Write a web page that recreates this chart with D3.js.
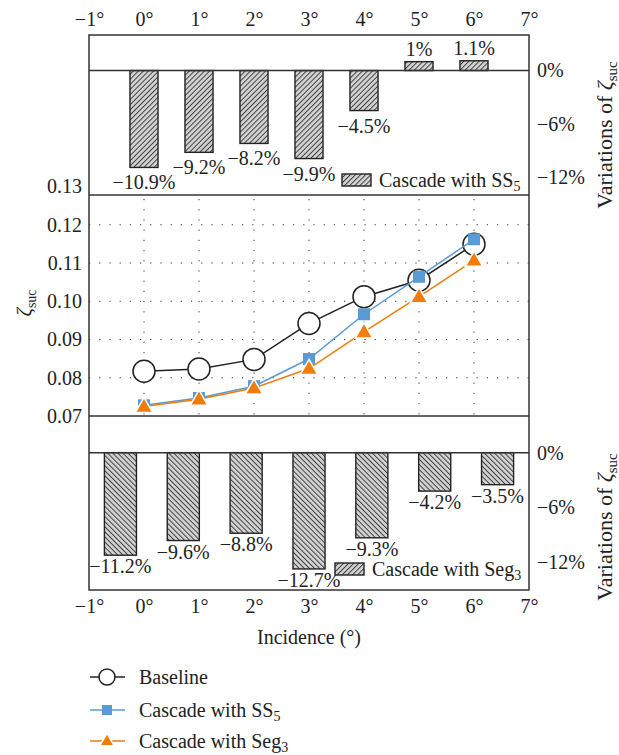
<!DOCTYPE html>
<html>
<head>
<meta charset="utf-8">
<script src="https://cdn.jsdelivr.net/npm/d3@7"></script>
<style>
body{margin:0;background:#fff;}
</style>
</head>
<body>
<svg id="chart" width="619" height="755"></svg>
<script>
// data
const angles=[0,1,2,3,4,5,6];
const baseline=[0.0817,0.0823,0.0848,0.0942,0.1012,0.1055,0.1149];
const ss5=[0.0728,0.0747,0.0778,0.0849,0.0966,0.1064,0.1162];
const seg3=[0.0725,0.0744,0.0773,0.0824,0.0920,0.1012,0.1107];
const varSS5=[-10.9,-9.2,-8.2,-9.9,-4.5,1,1.1];
const varSeg3=[-11.2,-9.6,-8.8,-12.7,-9.3,-4.2,-3.5];
const degTicks=[-1,0,1,2,3,4,5,6,7];
const zetaTicks=[0.07,0.08,0.09,0.10,0.11,0.12,0.13];
const varTicks=[0,-6,-12];

const svg=d3.select("#chart");
const L=89,R=529,topT=35,topB=195,midB=416,botB=590;
const blue="#5b9bd5",orange="#f07c0a",ink="#222";
const FONT="'Liberation Serif','Times New Roman',serif";

const x=d3.scaleLinear().domain([-1,7]).range([L,R]);
const xBand=d3.scaleBand().domain(angles).range([L,R]).paddingInner(0.49).paddingOuter(0.245);
const yTop=d3.scaleLinear().domain([-14,4]).range([topB,topT]);
const yMid=d3.scaleLinear().domain([0.07,0.13]).range([midB,186.5]);
const yBot=d3.scaleLinear().domain([-15,4]).range([botB,midB]);
const fmtPct=function(v){return (v<0?"\u2212":"")+Math.abs(v)+"%";};

// hatch patterns
const defs=svg.append("defs");
function hatch(id,angle){
	const p=defs.append("pattern").attr("id",id).attr("patternUnits","userSpaceOnUse")
		.attr("width",3.6).attr("height",3.6).attr("patternTransform","rotate("+angle+")");
	p.append("rect").attr("width",3.6).attr("height",3.6).attr("fill","#d2d2d2");
	p.append("line").attr("x1",0.5).attr("y1",0).attr("x2",0.5).attr("y2",3.6)
		.attr("stroke","#2a2a2a").attr("stroke-width",0.85);
}
hatch("hatchF",45);
hatch("hatchB",-45);

// middle panel grid (dotted)
const grid=svg.append("g");
grid.selectAll("line.h").data(zetaTicks.slice(1,6)).enter().append("line")
	.attr("x1",L).attr("x2",R).attr("y1",d=>yMid(d)).attr("y2",d=>yMid(d))
	.attr("stroke","#333").attr("stroke-width",1).attr("stroke-dasharray","1.2,9");
grid.selectAll("line.v").data(angles).enter().append("line")
	.attr("x1",d=>x(d)).attr("x2",d=>x(d)).attr("y1",topB).attr("y2",midB)
	.attr("stroke","#333").attr("stroke-width",1).attr("stroke-dasharray","1.2,9").attr("stroke-dashoffset",-4);

// top bars (SS5)
const topBars=svg.append("g");
const bwTop=(x(1)-x(0))*0.51;
topBars.selectAll("rect").data(varSS5).enter().append("rect")
	.attr("x",(d,i)=>x(angles[i])-bwTop/2)
	.attr("width",bwTop)
	.attr("y",d=>yTop(Math.max(0,d)))
	.attr("height",d=>Math.abs(yTop(d)-yTop(0)))
	.attr("fill","url(#hatchF)").attr("stroke",ink).attr("stroke-width",1.4);
topBars.selectAll("text").data(varSS5).enter().append("text")
	.attr("x",(d,i)=>x(angles[i]))
	.attr("y",d=>d<0?yTop(d)+22:yTop(d)-6)
	.attr("text-anchor","middle").style("font-size","20px")
	.text(fmtPct);

// bottom bars (Seg3)
const botBars=svg.append("g");
botBars.selectAll("rect").data(varSeg3).enter().append("rect")
	.attr("x",(d,i)=>xBand(angles[i]))
	.attr("width",xBand.bandwidth())
	.attr("y",yBot(0))
	.attr("height",d=>yBot(d)-yBot(0))
	.attr("fill","url(#hatchB)").attr("stroke",ink).attr("stroke-width",1.4);
botBars.selectAll("text").data(varSeg3).enter().append("text")
	.attr("x",(d,i)=>xBand(angles[i])+xBand.bandwidth()/2)
	.attr("y",d=>yBot(d)+18)
	.attr("text-anchor","middle").style("font-size","20px")
	.text(fmtPct);

// frame and separators
const frame=svg.append("g").attr("stroke","#333").attr("stroke-width",1.5).attr("fill","none");
frame.append("rect").attr("x",L).attr("y",topT).attr("width",R-L).attr("height",botB-topT);
[topB,midB,yTop(0),yBot(0)].forEach(function(y){
	frame.append("line").attr("x1",L).attr("x2",R).attr("y1",y).attr("y2",y);
});

// lines + markers
const line=d3.line().x((d,i)=>x(angles[i])).y(d=>yMid(d));
svg.append("path").datum(baseline).attr("d",line).attr("fill","none").attr("stroke",ink).attr("stroke-width",1.5);
svg.append("g").selectAll("circle").data(baseline).enter().append("circle")
	.attr("cx",(d,i)=>x(angles[i])).attr("cy",d=>yMid(d)).attr("r",11)
	.attr("fill","#fff").attr("stroke",ink).attr("stroke-width",1.5);
svg.append("path").datum(ss5).attr("d",line).attr("fill","none").attr("stroke",blue).attr("stroke-width",1.5);
svg.append("g").selectAll("rect").data(ss5).enter().append("rect")
	.attr("x",(d,i)=>x(angles[i])-6).attr("y",d=>yMid(d)-6).attr("width",12).attr("height",12)
	.attr("fill",blue);
svg.append("path").datum(seg3).attr("d",line).attr("fill","none").attr("stroke",orange).attr("stroke-width",1.5);
const tri=d3.symbol().type(d3.symbolTriangle).size(95);
svg.append("g").selectAll("path").data(seg3).enter().append("path")
	.attr("d",tri)
	.attr("transform",(d,i)=>"translate("+x(angles[i])+","+(yMid(d)+1)+")")
	.attr("fill",orange).attr("stroke","#fff").attr("stroke-width",3).style("paint-order","stroke");

// axes
function styleAxis(g){
	g.select(".domain").remove();
	g.selectAll("text").style("font-size","20px");
}
const degFmt=function(d){return (d<0?"\u2212"+Math.abs(d):d)+"\u00b0";};
svg.append("g").attr("transform","translate(0,"+topT+")")
	.call(d3.axisTop(x).tickValues(degTicks).tickSize(0).tickPadding(9).tickFormat(degFmt)).call(styleAxis);
svg.append("g").attr("transform","translate(0,"+botB+")")
	.call(d3.axisBottom(x).tickValues(degTicks).tickSize(0).tickPadding(9).tickFormat(degFmt)).call(styleAxis);
svg.append("g").attr("transform","translate("+L+",0)")
	.call(d3.axisLeft(yMid).tickValues(zetaTicks).tickSize(0).tickPadding(7).tickFormat(d3.format(".2f"))).call(styleAxis);
svg.append("g").attr("transform","translate("+R+",0)")
	.call(d3.axisRight(yTop).tickValues(varTicks).tickSize(0).tickPadding(8).tickFormat(fmtPct)).call(styleAxis);
svg.append("g").attr("transform","translate("+R+",0)")
	.call(d3.axisRight(yBot).tickValues(varTicks).tickSize(0).tickPadding(8).tickFormat(fmtPct)).call(styleAxis);

// axis titles
function zetaTitle(g,prefix,size,subSize){
	const t=g.append("text").attr("text-anchor","middle").style("font-size",size+"px");
	if(prefix) t.append("tspan").text(prefix);
	t.append("tspan").style("font-style","italic").text("\u03b6");
	t.append("tspan").attr("dy",5).style("font-size",subSize+"px").text("suc");
	return t;
}
zetaTitle(svg.append("g").attr("transform","translate(31,303) rotate(-90)"),"",21,14);
zetaTitle(svg.append("g").attr("transform","translate(612,135) rotate(-90)"),"Variations of ",22,15);
zetaTitle(svg.append("g").attr("transform","translate(612,527) rotate(-90)"),"Variations of ",22,15);
svg.append("text").attr("x",(L+R)/2).attr("y",644).attr("text-anchor","middle").style("font-size","20px").text("Incidence (\u00b0)");

// in-panel legends
function barLegend(xp,yp,pat,label,sub){
	svg.append("rect").attr("x",xp).attr("y",yp).attr("width",29).attr("height",12)
		.attr("fill","url(#"+pat+")").attr("stroke",ink).attr("stroke-width",1.4);
	const t=svg.append("text").attr("x",xp+37).attr("y",yp+13).style("font-size","20px");
	t.append("tspan").text(label);
	t.append("tspan").attr("dy",4).style("font-size","14px").text(sub);
}
barLegend(342,174,"hatchF","Cascade with SS","5");
barLegend(335,563,"hatchF","Cascade with Seg","3");

// series legend
const leg=svg.append("g");
const rows=[{y:677,c:ink,m:"circle",t:"Baseline",s:""},{y:710,c:blue,m:"square",t:"Cascade with SS",s:"5"},{y:741,c:orange,m:"triangle",t:"Cascade with Seg",s:"3"}];
rows.forEach(function(r){
	leg.append("line").attr("x1",90).attr("x2",125).attr("y1",r.y).attr("y2",r.y).attr("stroke",r.c).attr("stroke-width",1.5);
	if(r.m==="circle") leg.append("circle").attr("cx",107).attr("cy",r.y).attr("r",8).attr("fill","#fff").attr("stroke",r.c).attr("stroke-width",1.5);
	if(r.m==="square") leg.append("rect").attr("x",102).attr("y",r.y-5).attr("width",10).attr("height",10).attr("fill",r.c);
	if(r.m==="triangle") leg.append("path").attr("d",d3.symbol().type(d3.symbolTriangle).size(60)).attr("transform","translate(107,"+(r.y+0.5)+")")
		.attr("fill",r.c).attr("stroke","#fff").attr("stroke-width",3).style("paint-order","stroke");
	const t=leg.append("text").attr("x",139).attr("y",r.y+6.5).style("font-size","20px");
	t.append("tspan").text(r.t);
	if(r.s) t.append("tspan").attr("dy",4).style("font-size","14px").text(r.s);
});

// one serif face for every text
svg.selectAll("text").style("font-family",FONT).attr("fill",ink);
</script>
</body>
</html>
